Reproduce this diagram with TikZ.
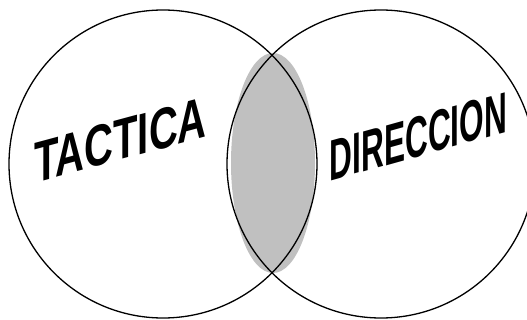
\documentclass[tikz,border=0pt]{standalone}
\usepackage{fontspec}
\newfontfamily\setfont{Liberation Sans}
\usepackage{tikz}
\usetikzlibrary{positioning,shapes.geometric}
\definecolor{lensgrey}{RGB}{192,192,192}
\tikzset{
  setc/.style={draw=black,circle,line width=1.3pt,minimum size=308pt,inner sep=0pt},
  lens/.style={ellipse,fill=lensgrey,draw=none,minimum width=84pt,minimum height=220pt,inner sep=0pt},
  setlbl/.style={font=\setfont\bfseries\fontsize{58}{58}\selectfont,inner sep=0pt},
}
\begin{document}
\begin{tikzpicture}[x=1pt,y=-1pt]
  \useasboundingbox (0,0) rectangle (527,320);
  \clip (0,0) rectangle (527,320);
  \node[lens] (inter) at (273,163) {};
  \node[setc] (tac) at (163,164) {};
  \node[setc] (dir) at (381,164) {};

  \node[setlbl,yslant=0.27,xscale=0.69] (tactica) at (120.5,140) {TACTICA};
  \node[setlbl,yslant=0.28,xscale=0.545] (direccion) at (418.5,136.5) {DIRECCION};
\end{tikzpicture}
\end{document}
